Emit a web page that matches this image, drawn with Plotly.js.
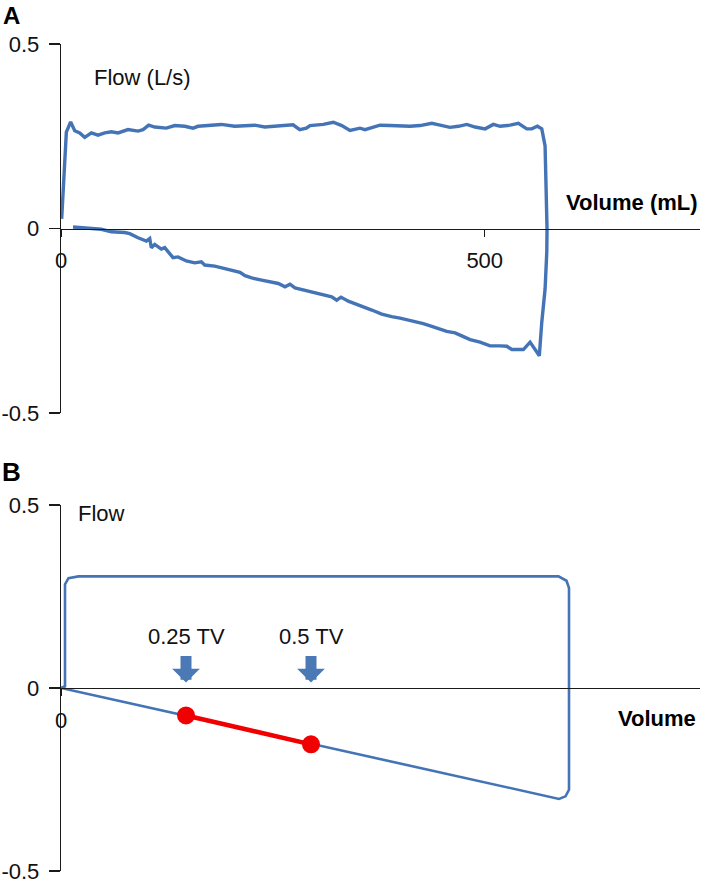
<!DOCTYPE html>
<html>
<head>
<meta charset="utf-8">
<script src="https://cdn.plot.ly/plotly-3.0.1.min.js"></script>
<style>
html,body{margin:0;padding:0;background:#fff;}
#chart{width:701px;height:884px;}
</style>
</head>
<body>
<div id="chart"></div>
<script>
// ---- Panel A: measured flow-volume loop (volume mL, flow L/s) ----
var topVolA = [0.8,5.1,6.3,11.4,16.2,22.1,28.0,35.8,43.7,51.6,59.4,67.3,79.1,90.9,96.8,103.5,110.6,124.3,134.2,146.0,155.8,161.7,173.5,189.2,205.0,216.8,228.6,240.4,252.2,264.0,273.8,281.7,289.5,293.8,309.5,321.3,331.3,341.0,352.8,358.7,366.7,376.4,388.2,400.0,411.8,423.6,437.5,447.3,459.0,468.9,478.8,488.6,500.4,510.2,518.1,529.9,539.7,549.6,555.5,562.1,567.3,571.2,573.2,573.5,573.2,571.2,567.3,564.4];
var topFlowA = [0.026,0.224,0.261,0.289,0.265,0.259,0.247,0.259,0.253,0.259,0.262,0.259,0.268,0.264,0.268,0.280,0.275,0.272,0.279,0.277,0.272,0.277,0.279,0.282,0.277,0.279,0.280,0.275,0.277,0.279,0.281,0.268,0.272,0.279,0.282,0.288,0.279,0.266,0.272,0.268,0.274,0.280,0.279,0.277,0.277,0.279,0.285,0.280,0.274,0.277,0.282,0.275,0.270,0.282,0.277,0.280,0.285,0.270,0.270,0.277,0.270,0.224,0.080,0.0,-0.064,-0.164,-0.254,-0.345];
var bottomVolA = [553.5,545.6,531.9,526.0,518.1,506.3,494.5,482.7,472.9,465.0,455.2,447.3,437.5,427.5,413.9,400.0,390.2,378.4,366.7,358.7,350.8,339.0,330.4,325.3,319.4,307.6,295.8,284.0,276.1,270.2,264.3,256.4,248.6,236.8,225.0,217.1,211.2,201.4,193.2,181.4,169.6,165.6,157.8,147.9,138.1,132.2,122.4,118.4,110.6,106.6,104.7,100.7,90.9,81.1,75.2,59.4,47.6,28.0,14.2];
var bottomFlowA = [-0.308,-0.328,-0.328,-0.319,-0.318,-0.318,-0.308,-0.301,-0.291,-0.283,-0.279,-0.272,-0.265,-0.258,-0.250,-0.243,-0.239,-0.232,-0.221,-0.214,-0.207,-0.197,-0.186,-0.194,-0.185,-0.178,-0.173,-0.164,-0.161,-0.151,-0.158,-0.149,-0.146,-0.140,-0.134,-0.128,-0.119,-0.114,-0.108,-0.102,-0.099,-0.090,-0.093,-0.088,-0.077,-0.079,-0.052,-0.056,-0.043,-0.052,-0.027,-0.034,-0.025,-0.014,-0.011,-0.009,-0.002,0.001,0.004];

// ---- Panel B: idealised loop (volume in TV fractions, flow) ----
var loopVolB  = [0, 0.008, 0.008, 0.015, 0.035, 0.995, 1.011, 1.016, 1.016, 1.009, 0.996, 0];
var loopFlowB = [0, 0.005, 0.283, 0.300, 0.305, 0.305, 0.293, 0.273, -0.278, -0.296, -0.303, 0];
var markVolB  = [0.25, 0.5];
var markFlowB = [-0.075, -0.154];
var arrowLabels = ['0.25 TV', '0.5 TV'];
var arrowTipFlow = 0.015;

var yTickVals = [-0.5, 0, 0.5];
var yTickText = ['-0.5', '0', '0.5'];

var FONT = 'Liberation Sans, Arial, Helvetica, sans-serif';
var BLUE = '#4474b6';
var AX = '#1a1a1a';
var W = 701, H = 884;

function px(x){ return x / W; }
function py(y){ return 1 - y / H; }

var domX = [px(61), px(700)];
var domYA = [py(413), py(44)];
var domYB = [py(871), py(505)];

var traces = [
  {
    x: topVolA.concat(bottomVolA), y: topFlowA.concat(bottomFlowA),
    xaxis: 'x', yaxis: 'y', mode: 'lines',
    line: {color: BLUE, width: 3.4}, hoverinfo: 'skip'
  },
  {
    x: loopVolB, y: loopFlowB, xaxis: 'x2', yaxis: 'y2', mode: 'lines',
    line: {color: BLUE, width: 2.6}, hoverinfo: 'skip'
  },
  {
    x: markVolB, y: markFlowB, xaxis: 'x2', yaxis: 'y2', mode: 'lines+markers',
    line: {color: '#f00000', width: 4.5},
    marker: {color: '#f00000', size: 18}, hoverinfo: 'skip'
  }
];

function xAxis(domain, range, tickvals, ticktext, posDomain){
  return {
    domain: domain, range: range, anchor: 'free',
    position: (posDomain[0] + posDomain[1]) / 2,
    showline: true, linecolor: AX, linewidth: 1.3,
    showgrid: false, zeroline: false,
    tickmode: 'array', tickvals: tickvals, ticktext: ticktext,
    ticks: 'outside', ticklen: 7, tickwidth: 1.3, tickcolor: AX,
    ticklabelstandoff: 5,
    tickfont: {family: FONT, size: 22, color: '#111'},
    fixedrange: true
  };
}
function yAxis(domain, anchor){
  return {
    domain: domain, range: [-0.5, 0.5], anchor: anchor,
    showline: true, linecolor: AX, linewidth: 1.3,
    showgrid: false, zeroline: false,
    tickmode: 'array', tickvals: yTickVals, ticktext: yTickText,
    ticks: 'outside', ticklen: 11, tickwidth: 1.3, tickcolor: AX,
    ticklabelstandoff: 5,
    tickfont: {family: FONT, size: 22, color: '#111'},
    fixedrange: true
  };
}

var annotations = [
  {text: '<b>A</b>', xref: 'paper', yref: 'paper', x: px(1), y: 1, xanchor: 'left', yanchor: 'top', showarrow: false, font: {family: FONT, size: 24, color: '#000'}},
  {text: '<b>B</b>', xref: 'paper', yref: 'paper', x: px(0), y: py(472), xanchor: 'left', yanchor: 'middle', showarrow: false, font: {family: FONT, size: 26, color: '#000'}},
  {text: 'Flow (L/s)', xref: 'paper', yref: 'paper', x: px(92), y: py(77), xanchor: 'left', yanchor: 'middle', showarrow: false, font: {family: FONT, size: 22, color: '#111'}},
  {text: '<b>Volume (mL)</b>', xref: 'paper', yref: 'paper', x: px(700), y: py(203), xanchor: 'right', yanchor: 'middle', showarrow: false, font: {family: FONT, size: 22, color: '#000'}},
  {text: 'Flow', xref: 'paper', yref: 'paper', x: px(76), y: py(513), xanchor: 'left', yanchor: 'middle', showarrow: false, font: {family: FONT, size: 22, color: '#111'}},
  {text: '<b>Volume</b>', xref: 'paper', yref: 'paper', x: px(698), y: py(718), xanchor: 'right', yanchor: 'middle', showarrow: false, font: {family: FONT, size: 22, color: '#000'}}
];
for (var i = 0; i < markVolB.length; i++) {
  annotations.push({
    text: '', xref: 'x2', yref: 'y2', x: markVolB[i], y: arrowTipFlow,
    showarrow: true, ax: 0, ay: -28, axref: 'pixel', ayref: 'pixel',
    arrowhead: 1, arrowsize: 0.42, arrowwidth: 11, arrowcolor: '#4a79b6', standoff: 0
  });
  annotations.push({
    text: arrowLabels[i], xref: 'x2', yref: 'y2', x: markVolB[i], y: arrowTipFlow,
    yshift: 46, xanchor: 'center', yanchor: 'middle', showarrow: false,
    font: {family: FONT, size: 22, color: '#111'}
  });
}

var layout = {
  width: W, height: H,
  margin: {l: 0, r: 0, t: 0, b: 0},
  paper_bgcolor: '#fff', plot_bgcolor: 'rgba(0,0,0,0)',
  showlegend: false,
  xaxis: xAxis(domX, [0, 754], [0, 500], ['0', '500'], domYA),
  yaxis: yAxis(domYA, 'x'),
  xaxis2: xAxis(domX, [0, 1.278], [0], ['0'], domYB),
  yaxis2: yAxis(domYB, 'x2'),
  annotations: annotations
};

Plotly.newPlot('chart', traces, layout, {staticPlot: true, displayModeBar: false});
</script>
</body>
</html>
